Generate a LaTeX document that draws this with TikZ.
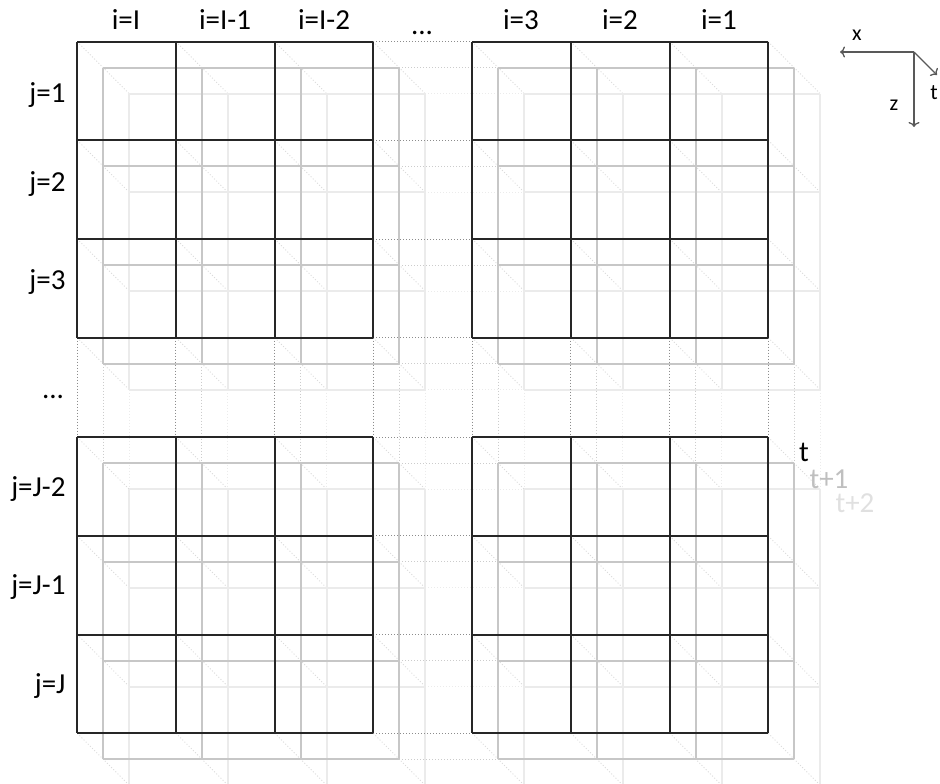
\documentclass[tikz,border=0pt]{standalone}
\usepackage{fontspec}
\setmainfont{Carlito}
\usetikzlibrary{arrows.meta}

\begin{document}
\begin{tikzpicture}[x=1pt, y=-1pt,
    lay0/.style={draw=black!85, line width=1.8pt},
    lay1/.style={draw=black!22, line width=2pt},
    lay2/.style={draw=black!8, line width=2pt},
    gap0/.style={draw=black!45, line width=1pt, dash pattern=on 1pt off 2pt},
    gap1/.style={draw=black!20, line width=1pt, dash pattern=on 1pt off 2pt},
    gap2/.style={draw=black!8, line width=1pt, dash pattern=on 1pt off 2pt},
    diag/.style={draw=black!14, line width=0.9pt, dash pattern=on 1pt off 2pt},
    lab/.style={font=\fontsize{29}{31}\selectfont},
    axlab/.style={font=\fontsize{22}{24}\selectfont},
    ax/.style={draw=black!65, line width=1.3pt, -{To[length=5pt,width=11pt]}}]
    \useasboundingbox (0,0) rectangle (940,784);

    % diagonals t -> t+2
    \foreach \bx in {77.3,176,274.7,373.3,472.3,571,669.7,768.3}
      \foreach \by in {41.7,140.4,239,337.7,437.3,536,634.6,733.3}
        \draw[diag] (\bx,\by) -- ++(52,52);

    % layers t+2, t+1, t
    \foreach \d/\g/\l in {52/gap2/lay2, 26/gap1/lay1, 0/gap0/lay0} {
      \foreach \by in {41.7,437.3} \foreach \k in {0,...,3}
        \draw[\g] (373.3+\d, \by+\k*98.67+\d) -- ++(99,0);
      \foreach \bx in {77.3,472.3} \foreach \k in {0,...,3}
        \draw[\g] (\bx+\k*98.67+\d, 337.7+\d) -- ++(0,99.6);
      \foreach \bx in {77.3,472.3} \foreach \by in {41.7,437.3}
        \foreach \k in {0,...,3} {
          \draw[\l] (\bx+\k*98.67+\d, \by+\d) -- ++(0,296);
          \draw[\l] (\bx+\d, \by+\k*98.67+\d) -- ++(296,0);
        }
    }

    % column labels
    \foreach \x/\txt [count=\n] in {126/i=I, 225/i=I-1, 324/i=I-2, 521/i=3, 620/i=2, 719/i=1}
      \node[lab, anchor=base] (col\n) at (\x,30) {\txt};
    \node[lab, anchor=base] (coldots) at (422,35) {...};

    % row labels
    \foreach \y/\txt [count=\n] in {100/j=1, 189/j=2, 287/j=3, 494/j=J-2, 592/j=J-1, 691/j=J}
      \node[lab, anchor=mid east] (row\n) at (69,\y) {\txt};
    \node[lab, anchor=base] (rowdots) at (53,398) {...};

    % layer labels
    \node[lab] (tt0) at (804,452) {t};
    \node[lab, text=black!25] (tt1) at (829,479) {t+1};
    \node[lab, text=black!12] (tt2) at (855,503) {t+2};

    % axes
    \coordinate (ax0) at (914,52);
    \coordinate (axx) at (840,52);
    \coordinate (axz) at (914,127);
    \coordinate (axt) at (937,75);
    \draw[ax] (ax0) -- (axx);
    \draw[ax] (ax0) -- (axz);
    \draw[ax] (ax0) -- (axt);
    \node[axlab] (lx) at (857,35) {x};
    \node[axlab] (lz) at (894,105) {z};
    \node[axlab] (lt) at (934,93) {t};
\end{tikzpicture}
\end{document}
